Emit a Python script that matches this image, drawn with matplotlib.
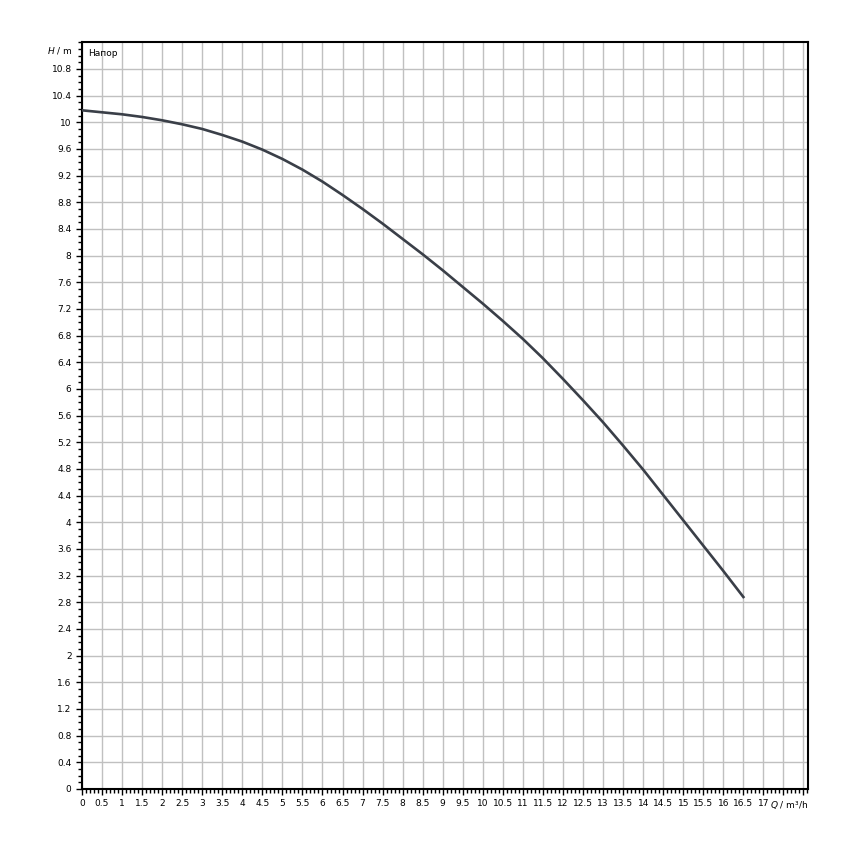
import matplotlib
matplotlib.use("Agg")
import matplotlib.pyplot as plt
from matplotlib.ticker import MultipleLocator

# pump curve
flow = [0, 0.5, 1, 1.5, 2, 2.5, 3, 3.5, 4, 4.5, 5, 5.5, 6, 6.5, 7, 7.5, 8, 8.5,
        9, 9.5, 10, 10.5, 11, 11.5, 12, 12.5, 13, 13.5, 14, 14.5, 15, 15.5, 16, 16.5]
head = [10.18, 10.15, 10.12, 10.08, 10.03, 9.97, 9.90, 9.81, 9.71, 9.59, 9.45, 9.29,
        9.11, 8.91, 8.70, 8.48, 8.25, 8.02, 7.78, 7.53, 7.28, 7.02, 6.75, 6.46,
        6.15, 5.83, 5.50, 5.15, 4.79, 4.41, 4.03, 3.65, 3.27, 2.88]

x_ticks = [i * 0.5 for i in range(37)]
x_labels = ["%g" % t if t <= 17 else "" for t in x_ticks]
y_ticks = [round(i * 0.4, 1) for i in range(28)]
y_labels = ["%g" % t for t in y_ticks]

fs = 6.5
x_max = 18.12

fig = plt.figure(figsize=(8.5, 8.5), dpi=100)
ax = fig.add_axes([82 / 850, 1 - 789 / 850, (808.3 - 82) / 850, (789 - 42.3) / 850])

ax.plot(flow, head, color="#3a3f48", linewidth=1.9, zorder=3)

ax.set_xlim(0, x_max)
ax.set_ylim(0, 11.2)
ax.set_xticks(x_ticks)
ax.set_xticklabels(x_labels)
ax.set_yticks(y_ticks)
ax.set_yticklabels(y_labels)
ax.xaxis.set_minor_locator(MultipleLocator(0.1))
ax.yaxis.set_minor_locator(MultipleLocator(0.1))
ax.tick_params(which="major", direction="out", length=4.5, width=1, labelsize=fs,
               pad=3, colors="black")
ax.tick_params(which="minor", direction="out", length=3, width=1)
ax.grid(which="major", color="#c0c0c0", linewidth=1.0)
ax.set_axisbelow(True)
for s in ax.spines.values():
    s.set_linewidth(1.5)
    s.set_color("black")

# axis names sit where the last tick labels would be
ax.annotate(r"$\it{Q}$ / m³/h", xy=(x_max, 0), xycoords=("data", "axes fraction"),
            xytext=(0, -7.5), textcoords="offset points", ha="right", va="top",
            fontsize=fs)
ax.annotate(r"$\it{H}$ / m", xy=(0, 11.08), xycoords=("axes fraction", "data"),
            xytext=(-6.5, 0), textcoords="offset points", ha="right", va="center",
            fontsize=fs)
ax.text(0.15, 11.03, "Напор", ha="left", va="center", fontsize=fs)

fig.savefig("out.png", dpi=100)
